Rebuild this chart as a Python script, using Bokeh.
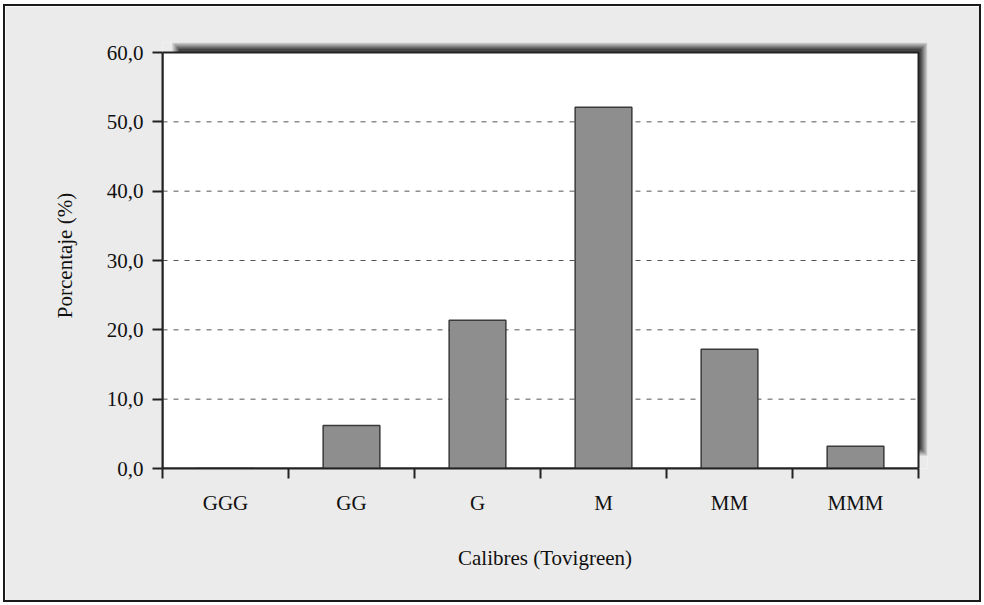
from bokeh.plotting import figure
from bokeh.models import FixedTicker, Range1d
from bokeh.embed import file_html
from bokeh.resources import INLINE

categories = ["GGG", "GG", "G", "M", "MM", "MMM"]
values = [0.0, 6.2, 21.4, 52.1, 17.2, 3.2]
y_ticks = [0, 10, 20, 30, 40, 50, 60]
y_tick_labels = ["0,0", "10,0", "20,0", "30,0", "40,0", "50,0", "60,0"]

FONT = "Liberation Serif"
TXT = "#111111"
LINE = "#222222"

N = len(categories)
YMAX = y_ticks[-1]

# layout in pixels
FW, FH = 756, 416          # white plot area
SX, SY = 9, 10             # shadow extent right / top
ML, MR, MT, MB = 157, 52, 36, 132

px_x = N / FW
px_y = YMAX / FH

p = figure(frame_width=FW + SX, frame_height=FH + SY,
           min_border_left=ML, min_border_right=MR, min_border_top=MT, min_border_bottom=MB,
           x_range=Range1d(0, N + SX * px_x), y_range=Range1d(0, YMAX + SY * px_y),
           output_backend="svg", toolbar_location=None,
           background_fill_color="#ebebeb", border_fill_color="#ebebeb",
           styles={"border": "2px solid #1a1a1a", "margin-left": "3px", "margin-top": "4px"})
p.outline_line_color = None
p.xgrid.grid_line_color = None
p.ygrid.grid_line_color = None

# soft drop shadow behind the plot area (top and right)
shadow_layers = [(0, "#c4c4c4"), (2, "#9a9a9a"), (4, "#6e6e6e"), (6, "#464646")]
for inset, col in shadow_layers:
    p.quad(left=(10 + inset) * px_x, right=N + (SX - inset) * px_x,
           bottom=(13 + inset) * px_y, top=YMAX + (SY - inset) * px_y,
           fill_color=col, line_color=None)

# white plot area
p.quad(left=0, right=N, bottom=0, top=YMAX, fill_color="white",
       line_color=LINE, line_width=2)

# dashed gridlines
grid_vals = [t for t in y_ticks if 0 < t < YMAX]
p.segment(x0=[0] * len(grid_vals), x1=[N] * len(grid_vals), y0=grid_vals, y1=grid_vals,
          line_color="#555555", line_dash="5 6", line_width=1)

xs = [i + 0.5 for i in range(N)]
p.vbar(x=xs, top=values, bottom=0, width=0.45,
       fill_color="#8e8e8e", line_color="#3a3a3a", line_width=1.5)

# y axis
ya = p.yaxis[0]
ya.bounds = (0, YMAX)
ya.ticker = FixedTicker(ticks=y_ticks, minor_ticks=[])
ya.major_label_overrides = {t: l for t, l in zip(y_ticks, y_tick_labels)}
ya.axis_label = "Porcentaje (%)"
ya.axis_label_text_font = FONT
ya.axis_label_text_font_size = "21px"
ya.axis_label_text_font_style = "normal"
ya.axis_label_text_color = TXT
ya.axis_label_standoff = 27
ya.major_label_text_font = FONT
ya.major_label_text_font_size = "21px"
ya.major_label_text_color = TXT
ya.major_label_standoff = 9
ya.major_tick_out = 10
ya.major_tick_in = 0
ya.major_tick_line_color = LINE
ya.major_tick_line_width = 2
ya.axis_line_color = LINE
ya.axis_line_width = 2

# x axis
xa = p.xaxis[0]
xa.bounds = (0, N)
xa.ticker = FixedTicker(ticks=xs, minor_ticks=list(range(N + 1)))
xa.major_label_overrides = {x: c for x, c in zip(xs, categories)}
xa.axis_label = "Calibres (Tovigreen)"
xa.axis_label_text_font = FONT
xa.axis_label_text_font_size = "21px"
xa.axis_label_text_font_style = "normal"
xa.axis_label_text_color = TXT
xa.axis_label_standoff = 28
xa.major_label_text_font = FONT
xa.major_label_text_font_size = "21px"
xa.major_label_text_color = TXT
xa.major_label_standoff = 12
xa.major_tick_out = 10
xa.major_tick_in = 0
xa.major_tick_line_color = None
xa.minor_tick_out = 10
xa.minor_tick_in = 0
xa.minor_tick_line_color = LINE
xa.minor_tick_line_width = 2
xa.axis_line_color = LINE
xa.axis_line_width = 2

open("out.html", "w").write(file_html(p, INLINE))
